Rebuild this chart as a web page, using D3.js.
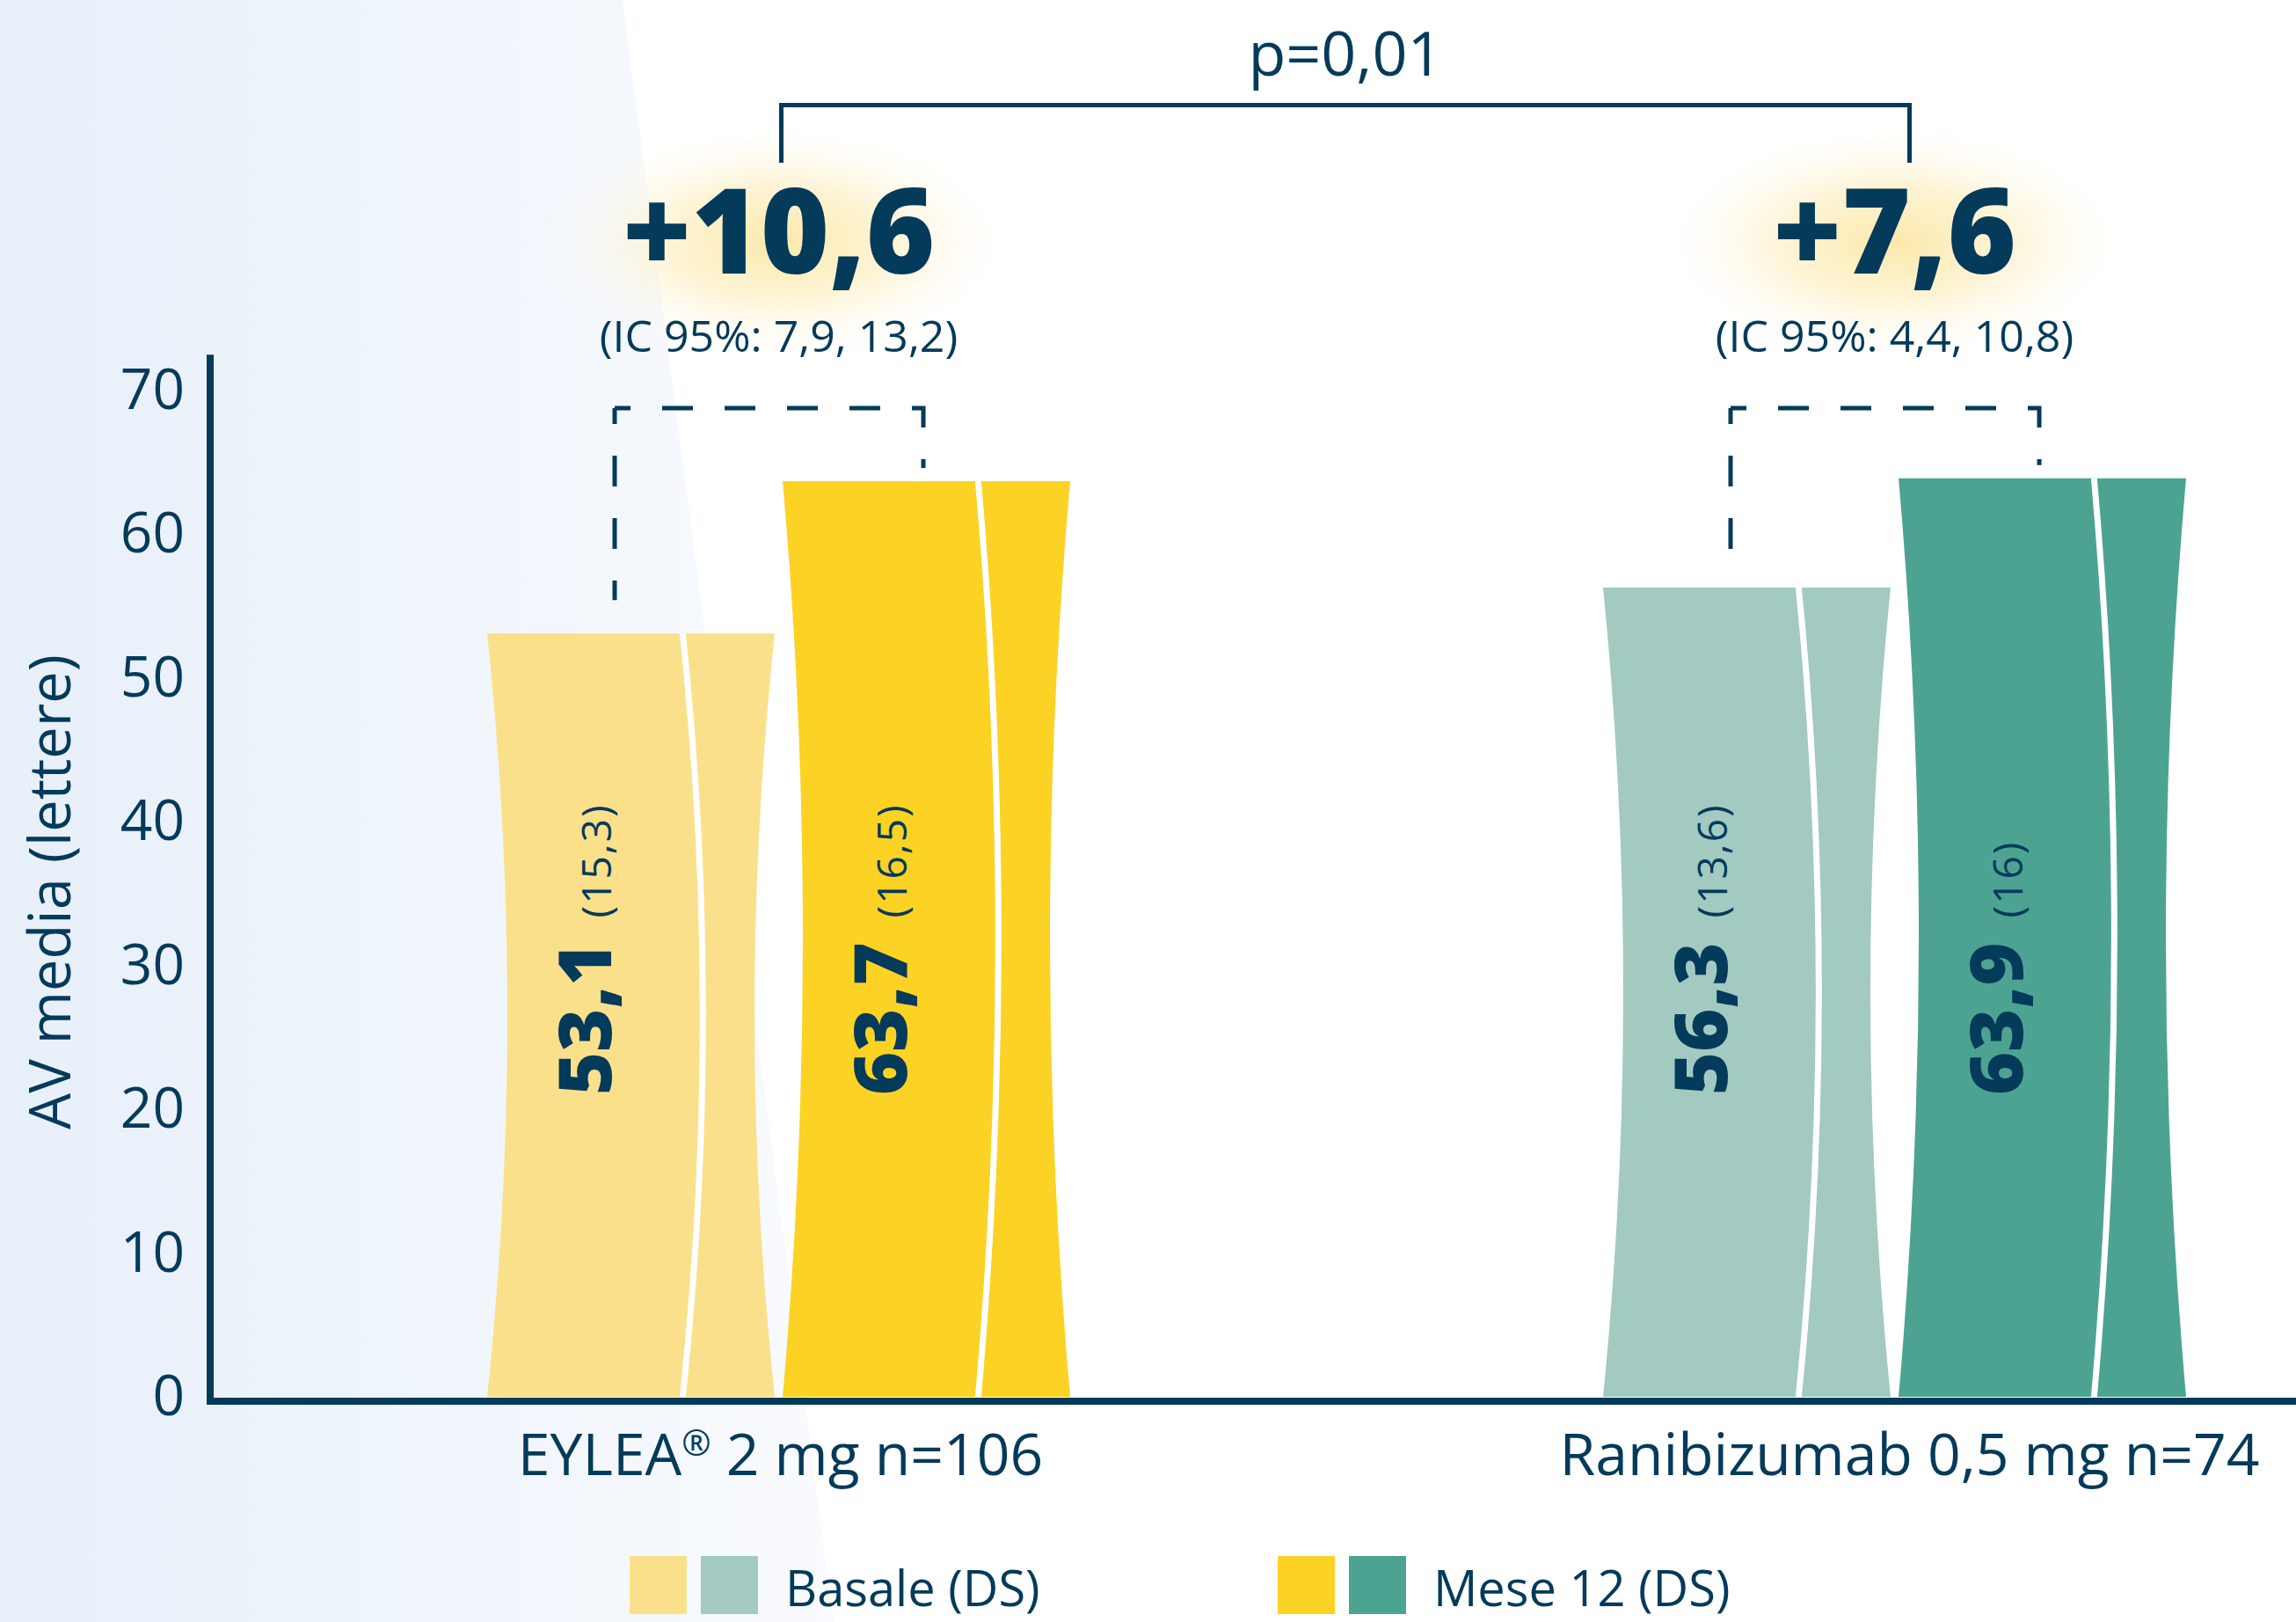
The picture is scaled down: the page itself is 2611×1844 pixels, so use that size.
<!DOCTYPE html>
<html>
<head>
<meta charset="utf-8">
<script src="https://cdn.jsdelivr.net/npm/d3@7"></script>
<style>
  body { margin: 0; background: #fff; }
  svg { display: block; }
</style>
</head>
<body>
<script>
// data
let groups = ["EYLEA® 2 mg n=106", "Ranibizumab 0,5 mg n=74"];
let series = ["Basale (DS)", "Mese 12 (DS)"];
let baseline = [53.1, 56.3];
let baselineSD = [15.3, 13.6];
let month12 = [63.7, 63.9];
let month12SD = [16.5, 16];
let changes = ["+10,6", "+7,6"];
let ci = ["(IC 95%: 7,9, 13,2)", "(IC 95%: 4,4, 10,8)"];
let pValue = "p=0,01";
let yTicks = [0, 10, 20, 30, 40, 50, 60, 70];
let colors = [["#fbe08b", "#fcd224"], ["#a2cac1", "#4da391"]];

let width = 2611,
    height = 1844;
let navy = "#043a5a";
let font = "'Open Sans', 'Noto Sans', sans-serif";

let it = d3.formatLocale({decimal: ",", thousands: ".", grouping: [3], currency: ["€", ""]});
let fmt = v => (Number.isInteger(v) ? it.format("d")(v) : it.format(".1f")(v));

let svg = d3.select("body").append("svg")
    .attr("width", width)
    .attr("height", height);

let defs = svg.append("defs");

let bgGrad = defs.append("linearGradient").attr("id", "bgGrad")
    .attr("x1", 0).attr("x2", 1).attr("y1", 0).attr("y2", 0);
bgGrad.append("stop").attr("offset", "0%").attr("stop-color", "#e7eff9");
bgGrad.append("stop").attr("offset", "60%").attr("stop-color", "#f1f6fc");
bgGrad.append("stop").attr("offset", "100%").attr("stop-color", "#f9fbfe");

let glow = defs.append("radialGradient").attr("id", "glow");
glow.append("stop").attr("offset", "0%").attr("stop-color", "#fbe6a0").attr("stop-opacity", 0.9);
glow.append("stop").attr("offset", "45%").attr("stop-color", "#fdefc2").attr("stop-opacity", 0.7);
glow.append("stop").attr("offset", "100%").attr("stop-color", "#ffffff").attr("stop-opacity", 0);

// background tint on the left side
svg.append("rect").attr("width", width).attr("height", height).attr("fill", "#fff");
svg.append("polygon")
    .attr("points", "0,0 708,0 948,1844 0,1844")
    .attr("fill", "url(#bgGrad)");

// scales
let y = d3.scaleLinear().domain([0, 70]).range([1588, 444]);
let xGroup = d3.scalePoint().domain(groups).range([885.5, 2154.5]);
let xSeries = d3.scaleBand().domain(series).range([-331.5, 331.5]).paddingInner(0.027);

let bars = [];
groups.forEach((g, gi) => {
    bars.push({group: g, gi: gi, series: series[0], si: 0, value: baseline[gi], sd: baselineSD[gi]});
    bars.push({group: g, gi: gi, series: series[1], si: 1, value: month12[gi], sd: month12SD[gi]});
});
bars.forEach(d => {
    d.x0 = xGroup(d.group) + xSeries(d.series);
    d.x1 = d.x0 + xSeries.bandwidth();
    d.top = y(d.value);
});

let bow = 23;
function barPath(d) {
    let yb = y(0), ym = (d.top + yb) / 2;
    return "M" + d.x0 + "," + d.top + "L" + d.x1 + "," + d.top +
        "Q" + (d.x1 - 2 * bow) + "," + ym + " " + d.x1 + "," + yb +
        "L" + d.x0 + "," + yb +
        "Q" + (d.x0 + 2 * bow) + "," + ym + " " + d.x0 + "," + d.top + "Z";
}
function dividerPath(d) {
    let yb = y(0), ym = (d.top + yb) / 2;
    let xd = d.x0 + 0.68 * xSeries.bandwidth();
    return "M" + xd + "," + d.top + "Q" + (xd + 2 * bow) + "," + ym + " " + xd + "," + yb;
}

// glow behind the change values
svg.selectAll(".glow")
    .data(groups)
    .enter().append("ellipse")
    .attr("class", "glow")
    .attr("cx", d => xGroup(d))
    .attr("cy", 275)
    .attr("rx", 280)
    .attr("ry", 140)
    .attr("fill", "url(#glow)");

// bars
svg.selectAll(".bar")
    .data(bars)
    .enter().append("path")
    .attr("class", "bar")
    .attr("d", barPath)
    .attr("fill", d => colors[d.gi][d.si]);

svg.selectAll(".divider")
    .data(bars)
    .enter().append("path")
    .attr("class", "divider")
    .attr("d", dividerPath)
    .attr("fill", "none")
    .attr("stroke", "#fff")
    .attr("stroke-width", 7);

// values inside bars
let labels = svg.selectAll(".barlabel")
    .data(bars)
    .enter().append("text")
    .attr("class", "barlabel")
    .attr("transform", d => "translate(" + (d.x0 + 141) + ",1245) rotate(-90)")
    .attr("fill", navy)
    .attr("font-family", font);
labels.append("tspan")
    .attr("font-size", 84)
    .attr("font-weight", 800)
    .text(d => fmt(d.value));
labels.append("tspan")
    .attr("dx", 28)
    .attr("font-size", 46)
    .attr("letter-spacing", 2)
    .text(d => "(" + fmt(d.sd) + ")");

// dashed brackets between baseline and month 12
let dashed = groups.map((g, gi) => {
    let b0 = bars[gi * 2], b1 = bars[gi * 2 + 1];
    return {xl: b0.x0 + 145, yl: b0.top - 38, xr: b1.x0 + 160, yr: b1.top - 15};
});
dashed.forEach(d => {
    svg.append("path")
        .attr("d", "M" + d.xl + ",464L" + d.xl + "," + d.yl)
        .attr("fill", "none").attr("stroke", navy).attr("stroke-width", 5)
        .attr("stroke-dasharray", "35,36").attr("stroke-dashoffset", 17);
    svg.append("path")
        .attr("d", "M" + d.xl + ",464L" + d.xr + ",464L" + d.xr + "," + d.yr)
        .attr("fill", "none").attr("stroke", navy).attr("stroke-width", 5)
        .attr("stroke-dasharray", "35,36").attr("stroke-dashoffset", 17);
});

// change values and CIs
svg.selectAll(".change")
    .data(changes)
    .enter().append("text")
    .attr("class", "change")
    .attr("x", (d, i) => xGroup(groups[i]))
    .attr("y", 311)
    .attr("text-anchor", "middle")
    .attr("font-family", font)
    .attr("font-weight", 800)
    .attr("font-size", 134)
    .attr("fill", navy)
    .text(d => d);

svg.selectAll(".ci")
    .data(ci)
    .enter().append("text")
    .attr("class", "ci")
    .attr("x", (d, i) => xGroup(groups[i]))
    .attr("y", 400)
    .attr("text-anchor", "middle")
    .attr("font-family", font)
    .attr("font-size", 50)
    .attr("fill", navy)
    .text(d => d);

// p value bracket
let pl = xGroup(groups[0]) + 3,
    pr = xGroup(groups[1]) + 17;
svg.append("path")
    .attr("d", "M" + pl + ",185L" + pl + ",119.5L" + pr + ",119.5L" + pr + ",185")
    .attr("fill", "none")
    .attr("stroke", navy)
    .attr("stroke-width", 5);
svg.append("text")
    .attr("x", (pl + pr) / 2)
    .attr("y", 86)
    .attr("text-anchor", "middle")
    .attr("font-family", font)
    .attr("font-size", 70)
    .attr("fill", navy)
    .text(pValue);

// y axis
let yAxis = svg.append("g")
    .attr("transform", "translate(239,0)")
    .call(d3.axisLeft(y).tickValues(yTicks).tickSize(0).tickPadding(29));
yAxis.select(".domain").remove();
yAxis.selectAll("text")
    .attr("font-family", font)
    .attr("font-size", 64)
    .attr("fill", navy);

svg.append("line")
    .attr("x1", 239).attr("x2", 239)
    .attr("y1", y(72.5)).attr("y2", y(0) + 9)
    .attr("stroke", navy).attr("stroke-width", 8);
svg.append("line")
    .attr("x1", 235).attr("x2", width)
    .attr("y1", y(0) + 5).attr("y2", y(0) + 5)
    .attr("stroke", navy).attr("stroke-width", 8);

svg.append("text")
    .attr("transform", "translate(80,1014) rotate(-90)")
    .attr("text-anchor", "middle")
    .attr("font-family", font)
    .attr("font-size", 65)
    .attr("fill", navy)
    .text("AV media (lettere)");

// group labels
let gl = svg.selectAll(".glabel")
    .data(groups)
    .enter().append("text")
    .attr("class", "glabel")
    .attr("x", (d, i) => xGroup(d) + (i === 0 ? 2 : 17))
    .attr("y", 1677)
    .attr("text-anchor", "middle")
    .attr("font-family", font)
    .attr("font-size", 66)
    .attr("fill", navy);
gl.each(function (d) {
    let parts = d.split("®");
    let t = d3.select(this);
    t.append("tspan").text(parts[0]);
    if (parts.length > 1) {
        t.append("tspan").attr("font-size", 40).attr("dy", -22).text("®");
        t.append("tspan").attr("dy", 22).text(parts[1]);
    }
});

// legend
let legendX = [716, 1453];
series.forEach((s, si) => {
    groups.forEach((g, gi) => {
        svg.append("rect")
            .attr("x", legendX[si] + gi * 81)
            .attr("y", 1769)
            .attr("width", 65)
            .attr("height", 66)
            .attr("fill", colors[gi][si]);
    });
    svg.append("text")
        .attr("x", legendX[si] + 177)
        .attr("y", 1826)
        .attr("font-family", font)
        .attr("font-size", 56)
        .attr("fill", navy)
        .text(s);
});
</script>
</body>
</html>
